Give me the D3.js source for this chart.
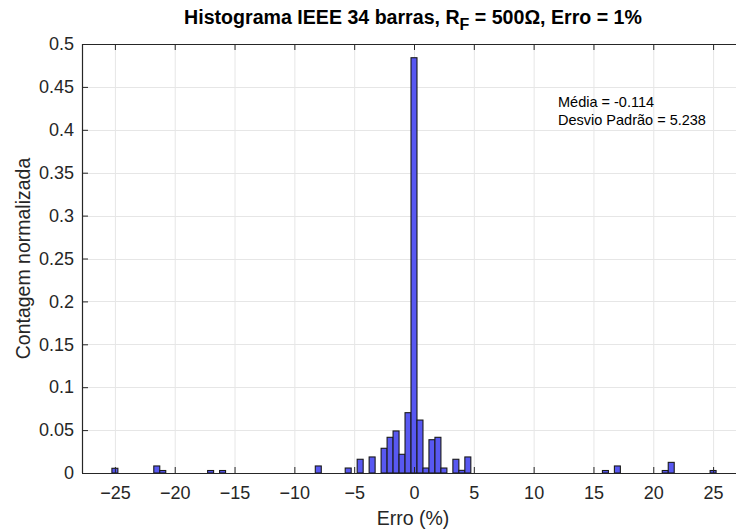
<!DOCTYPE html>
<html>
<head>
<meta charset="utf-8">
<script src="https://cdn.jsdelivr.net/npm/d3@7"></script>
<style>
  html, body { margin: 0; padding: 0; background: #fff; }
  svg { display: block; font-family: "Liberation Sans", Arial, Helvetica, sans-serif; }
</style>
</head>
<body>
<svg id="chart" width="736" height="530"></svg>
<script>
// ---- data ----
const binCenters = [-25, -21.5, -21, -17, -16, -8, -5.5, -4.5, -3.5, -2.5, -2, -1.5, -1, -0.5, 0, 0.5, 1, 1.5, 2, 2.5, 3.5, 4, 4.5, 16, 17, 21, 21.5, 25];
const binValues  = [0.0055, 0.0082, 0.0029, 0.0029, 0.0029, 0.0082, 0.0058, 0.016, 0.0187, 0.0288, 0.0416, 0.049, 0.0218, 0.0703, 0.484, 0.0617, 0.0058, 0.0388, 0.0416, 0.0058, 0.016, 0.0031, 0.0187, 0.0029, 0.0082, 0.0029, 0.0124, 0.0029];
const binWidth = 0.5;
const xTicks = [-25, -20, -15, -10, -5, 0, 5, 10, 15, 20, 25];
const yTicks = [0, 0.05, 0.1, 0.15, 0.2, 0.25, 0.3, 0.35, 0.4, 0.45, 0.5];
const yTickLabels = ["0", "0.05", "0.1", "0.15", "0.2", "0.25", "0.3", "0.35", "0.4", "0.45", "0.5"];
const statsLines = ["Média = -0.114", "Desvio Padrão = 5.238"];

// ---- layout ----
const L = 82, R = 746, T = 44, B = 473;
const axisColor = "#262626";
const svg = d3.select("#chart");

const x = d3.scaleLinear().domain([-27.75, 27.75]).range([L, R]);
const y = d3.scaleLinear().domain([0, 0.5]).range([B, T]);

// grid
const grid = svg.append("g");
grid.selectAll("line.vx").data(xTicks).join("line")
  .attr("x1", d => x(d) + 0.5).attr("x2", d => x(d) + 0.5)
  .attr("y1", T).attr("y2", B)
  .attr("stroke", "#e6e6e6").attr("stroke-width", 1);
grid.selectAll("line.hy").data(yTicks.slice(1)).join("line")
  .attr("y1", d => Math.round(y(d)) + 0.5).attr("y2", d => Math.round(y(d)) + 0.5)
  .attr("x1", L).attr("x2", R)
  .attr("stroke", "#e6e6e6").attr("stroke-width", 1);

// bars
svg.append("g").selectAll("rect").data(binCenters).join("rect")
  .attr("x", d => x(d - binWidth / 2))
  .attr("width", d => x(d + binWidth / 2) - x(d - binWidth / 2))
  .attr("y", (d, i) => y(binValues[i]))
  .attr("height", (d, i) => B - y(binValues[i]))
  .attr("fill", "#5858f2")
  .attr("stroke", "#1a1a1a")
  .attr("stroke-width", 1.1);

// axes
const xAxis = d3.axisBottom(x).tickValues(xTicks).tickSize(-6).tickPadding(13).tickFormat(d3.format("d"));
const gx = svg.append("g").attr("transform", `translate(0,${B})`).call(xAxis);
gx.select(".domain").attr("stroke", axisColor).attr("stroke-width", 1.2).attr("d", `M${L},0.5H${R}`);
gx.selectAll(".tick line").attr("stroke", axisColor);
gx.selectAll(".tick text").attr("fill", axisColor).attr("font-size", 18).attr("font-family", "Liberation Sans, Arial, sans-serif");

const xTop = d3.axisTop(x).tickValues(xTicks).tickSize(-6).tickFormat("");
const gxt = svg.append("g").attr("transform", `translate(0,${T})`).call(xTop);
gxt.select(".domain").attr("stroke", axisColor).attr("stroke-width", 1.2).attr("d", `M${L},0.5H${R}`);
gxt.selectAll(".tick line").attr("stroke", axisColor);

const yAxis = d3.axisLeft(y).tickValues(yTicks).tickSize(-6).tickPadding(8).tickFormat((d, i) => yTickLabels[i]);
const gy = svg.append("g").attr("transform", `translate(${L},0)`).call(yAxis);
gy.select(".domain").attr("stroke", axisColor).attr("stroke-width", 1.2).attr("d", `M0.5,${T}V${B}`);
gy.selectAll(".tick line").attr("stroke", axisColor);
gy.selectAll(".tick text").attr("fill", axisColor).attr("font-size", 18).attr("font-family", "Liberation Sans, Arial, sans-serif");

// title
const title = svg.append("text")
  .attr("x", 413).attr("y", 24)
  .attr("text-anchor", "middle")
  .attr("font-size", 19.6).attr("font-weight", "bold").attr("fill", "#000");
title.append("tspan").text("Histograma IEEE 34 barras, R");
title.append("tspan").attr("dy", 6).attr("font-size", 16).text("F");
title.append("tspan").attr("dy", -6).text(" = 500\u03A9, Erro = 1%");

// axis labels
svg.append("text").attr("x", 413).attr("y", 525).attr("text-anchor", "middle")
  .attr("font-size", 19.5).attr("fill", axisColor).text("Erro (%)");
svg.append("text").attr("transform", `translate(30,${(T + B) / 2}) rotate(-90)`)
  .attr("text-anchor", "middle").attr("font-size", 19.5).attr("fill", axisColor)
  .text("Contagem normalizada");

// stats annotation
svg.append("g").selectAll("text").data(statsLines).join("text")
  .attr("x", 558).attr("y", (d, i) => 107 + i * 18)
  .attr("font-size", 14.5).attr("fill", "#000")
  .text(d => d);
</script>
</body>
</html>
